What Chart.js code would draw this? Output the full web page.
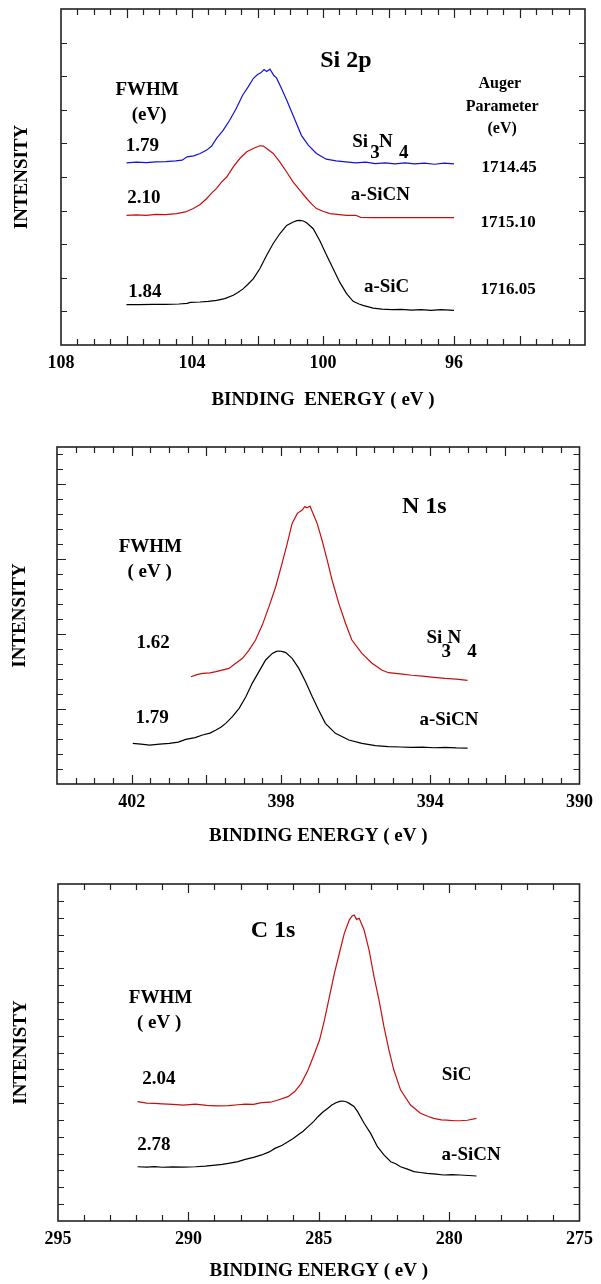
<!DOCTYPE html>
<html>
<head>
<meta charset="utf-8">
<script src="https://cdn.jsdelivr.net/npm/chart.js@4.4.0/dist/chart.umd.min.js"></script>
<style>
  body { margin: 0; background: #fff; }
  #page { position: relative; width: 601px; height: 1284px; }
  canvas { position: absolute; left: 0; }
</style>
</head>
<body>
<div id="page">
  <canvas id="si2p" width="601" height="425" style="top:0px"></canvas>
  <canvas id="n1s" width="601" height="425" style="top:430px"></canvas>
  <canvas id="c1s" width="601" height="424" style="top:860px"></canvas>
</div>
<script>
// ---- Si 2p ----
const si2pTicks = [108, 104, 100, 96];
const si2pSi3N4E = [106.0, 105.7, 105.4, 105.1, 104.8, 104.5, 104.3, 104.15, 103.95, 103.75, 103.55, 103.4, 103.25, 103.05, 102.85, 102.65, 102.45, 102.28, 102.13, 102.0, 101.9, 101.8, 101.72, 101.62, 101.5, 101.42, 101.27, 101.11, 100.96, 100.81, 100.66, 100.45, 100.2, 99.9, 99.6, 99.3, 99.0, 98.7, 98.4, 98.1, 97.8, 97.5, 97.2, 96.9, 96.6, 96.3, 96.0];
const si2pSi3N4I = [5.42, 5.44, 5.43, 5.45, 5.46, 5.48, 5.50, 5.60, 5.63, 5.70, 5.80, 5.92, 6.15, 6.39, 6.69, 7.04, 7.44, 7.69, 7.93, 8.05, 8.10, 8.20, 8.14, 8.21, 8.02, 7.95, 7.64, 7.29, 6.94, 6.59, 6.24, 5.95, 5.70, 5.53, 5.48, 5.45, 5.42, 5.44, 5.40, 5.42, 5.39, 5.42, 5.39, 5.41, 5.38, 5.41, 5.39];
const si2pSiCNE = [106.0, 105.7, 105.4, 105.1, 104.8, 104.47, 104.2, 103.96, 103.75, 103.55, 103.4, 103.25, 103.1, 102.94, 102.74, 102.54, 102.33, 102.13, 101.93, 101.82, 101.72, 101.52, 101.32, 101.11, 100.91, 100.71, 100.5, 100.35, 100.2, 100.0, 99.79, 99.5, 99.28, 99.0, 98.85, 98.5, 98.1, 97.7, 97.3, 96.9, 96.5, 96.0];
const si2pSiCNI = [3.86, 3.87, 3.86, 3.89, 3.88, 3.91, 3.96, 4.06, 4.18, 4.36, 4.52, 4.66, 4.85, 5.00, 5.30, 5.55, 5.75, 5.85, 5.93, 5.92, 5.85, 5.70, 5.45, 5.15, 4.85, 4.61, 4.36, 4.20, 4.06, 3.98, 3.91, 3.88, 3.86, 3.86, 3.80, 3.79, 3.79, 3.79, 3.79, 3.79, 3.79, 3.79];
const si2pSiCE = [106.0, 105.6, 105.2, 104.8, 104.4, 104.15, 104.05, 103.76, 103.5, 103.25, 103.0, 102.74, 102.6, 102.44, 102.3, 102.13, 101.93, 101.72, 101.52, 101.32, 101.11, 100.91, 100.8, 100.71, 100.6, 100.5, 100.3, 100.1, 99.89, 99.69, 99.49, 99.28, 99.08, 98.9, 98.78, 98.47, 98.2, 97.9, 97.6, 97.3, 97.0, 96.7, 96.4, 96.0];
const si2pSiCI = [1.20, 1.20, 1.21, 1.21, 1.22, 1.24, 1.27, 1.28, 1.30, 1.33, 1.38, 1.48, 1.56, 1.67, 1.80, 1.97, 2.27, 2.67, 3.02, 3.31, 3.56, 3.66, 3.70, 3.71, 3.69, 3.64, 3.46, 3.11, 2.67, 2.27, 1.87, 1.53, 1.30, 1.22, 1.18, 1.10, 1.07, 1.05, 1.06, 1.04, 1.05, 1.03, 1.05, 1.03];

// ---- N 1s ----
const n1sTicks = [402, 398, 394, 390];
const n1sSi3N4E = [400.41, 400.25, 400.10, 399.9, 399.74, 399.55, 399.39, 399.21, 399.03, 398.85, 398.68, 398.5, 398.32, 398.14, 397.97, 397.83, 397.70, 397.56, 397.43, 397.36, 397.30, 397.22, 397.16, 397.03, 396.9, 396.76, 396.63, 396.45, 396.27, 396.1, 395.83, 395.56, 395.3, 395.12, 394.8, 394.5, 394.2, 393.9, 393.6, 393.3, 393.0];
const n1sSi3N4I = [7.16, 7.30, 7.39, 7.42, 7.50, 7.62, 7.72, 8.06, 8.39, 8.95, 9.61, 10.61, 11.84, 13.17, 14.73, 16.07, 17.40, 18.07, 18.29, 18.52, 18.44, 18.56, 18.18, 17.40, 16.29, 14.95, 13.62, 12.06, 10.73, 9.61, 8.72, 8.06, 7.61, 7.43, 7.35, 7.26, 7.20, 7.12, 7.05, 7.00, 6.92];
const n1sSiCNE = [401.97, 401.75, 401.52, 401.25, 400.99, 400.75, 400.55, 400.3, 400.10, 399.9, 399.74, 399.6, 399.48, 399.3, 399.12, 398.94, 398.77, 398.59, 398.41, 398.23, 398.12, 398.05, 397.95, 397.87, 397.70, 397.52, 397.34, 397.16, 396.99, 396.81, 396.54, 396.18, 395.83, 395.47, 395.12, 394.8, 394.5, 394.2, 393.9, 393.6, 393.3, 393.0];
const n1sSiCNI = [2.71, 2.66, 2.60, 2.66, 2.71, 2.80, 2.98, 3.10, 3.27, 3.40, 3.60, 3.80, 4.05, 4.50, 5.05, 5.83, 6.72, 7.50, 8.28, 8.72, 8.85, 8.88, 8.84, 8.77, 8.39, 7.72, 6.83, 5.83, 4.94, 4.05, 3.38, 2.94, 2.71, 2.56, 2.49, 2.47, 2.44, 2.46, 2.42, 2.44, 2.41, 2.40];

// ---- C 1s ----
const c1sTicks = [295, 290, 285, 280, 275];
const c1sSiCE = [291.95, 291.6, 291.3, 291.0, 290.6, 290.2, 289.73, 289.3, 288.9, 288.46, 288.1, 287.82, 287.5, 287.19, 286.85, 286.56, 286.18, 285.92, 285.67, 285.41, 285.16, 284.97, 284.78, 284.59, 284.4, 284.21, 284.02, 283.83, 283.72, 283.64, 283.55, 283.45, 283.26, 283.07, 282.88, 282.69, 282.5, 282.31, 282.12, 281.86, 281.48, 281.1, 280.8, 280.59, 280.3, 280.09, 279.8, 279.58, 279.3, 278.95];
const c1sSiCI = [7.08, 7.00, 6.98, 6.95, 6.92, 6.88, 6.94, 6.86, 6.83, 6.85, 6.90, 6.94, 6.92, 7.02, 7.05, 7.18, 7.38, 7.68, 8.17, 8.96, 9.95, 10.74, 11.93, 13.31, 14.70, 15.89, 17.07, 17.86, 18.10, 18.16, 17.90, 17.96, 17.27, 16.08, 14.50, 13.12, 11.53, 10.15, 8.96, 7.77, 6.88, 6.39, 6.20, 6.09, 6.00, 5.99, 5.95, 5.95, 5.98, 6.09];
const c1sSiCNE = [291.95, 291.6, 291.3, 291.0, 290.6, 290.2, 289.73, 289.35, 288.97, 288.7, 288.46, 288.1, 287.82, 287.5, 287.19, 286.9, 286.68, 286.4, 286.18, 285.98, 285.8, 285.6, 285.41, 285.2, 285.03, 284.85, 284.65, 284.5, 284.34, 284.2, 284.08, 283.95, 283.83, 283.65, 283.51, 283.26, 283.01, 282.75, 282.5, 282.24, 282.05, 281.86, 281.6, 281.35, 281.1, 280.85, 280.5, 280.21, 279.9, 279.58, 279.25, 278.95];
const c1sSiCNI = [3.22, 3.20, 3.23, 3.19, 3.21, 3.20, 3.22, 3.26, 3.32, 3.36, 3.42, 3.52, 3.66, 3.78, 3.92, 4.10, 4.31, 4.50, 4.71, 4.90, 5.10, 5.33, 5.60, 5.90, 6.19, 6.45, 6.69, 6.88, 7.02, 7.10, 7.12, 7.08, 6.98, 6.80, 6.49, 5.80, 5.20, 4.41, 3.92, 3.52, 3.40, 3.22, 3.08, 2.93, 2.88, 2.83, 2.78, 2.73, 2.75, 2.73, 2.70, 2.67];

const SERIF = '"Liberation Serif", "Times New Roman", serif';
const BLUE = '#1212d8';
const RED = '#c80d0d';
const BLACK = '#000000';

Chart.defaults.color = '#000';

function pts(es, is) {
    return es.map((e, i) => ({ x: e, y: is[i] }));
}

// box round the plot with inward ticks on all four sides
const frameTicks = {
    id: 'frameTicks',
    afterDatasetsDraw(chart, args, o) {
        const { ctx, chartArea: a, scales: { x, y } } = chart;
        ctx.save();
        ctx.strokeStyle = '#222';
        ctx.lineWidth = 1.2;
        ctx.beginPath();
        const nx = Math.round((x.max - x.min) / o.xStep);
        for (let i = 1; i < nx; i++) {
            const v = x.min + i * o.xStep;
            const px = Math.round(x.getPixelForValue(v)) + 0.5;
            const major = o.xMajor && Math.abs(v / o.xMajor - Math.round(v / o.xMajor)) < 1e-6;
            const len = major ? o.majorLen : o.minorLen;
            ctx.moveTo(px, a.bottom); ctx.lineTo(px, a.bottom - len);
            ctx.moveTo(px, a.top); ctx.lineTo(px, a.top + len);
        }
        const ny = Math.floor((y.max - y.min) / o.yStep + 1e-6);
        for (let i = 1; i <= ny; i++) {
            const v = y.min + i * o.yStep;
            if (v >= y.max) continue;
            const py = Math.round(y.getPixelForValue(v)) + 0.5;
            const major = o.yMajor && Math.abs(v / o.yMajor - Math.round(v / o.yMajor)) < 1e-6;
            const len = major ? o.majorLen : o.minorLen;
            ctx.moveTo(a.left, py); ctx.lineTo(a.left + len, py);
            ctx.moveTo(a.right, py); ctx.lineTo(a.right - len, py);
        }
        ctx.stroke();
        ctx.lineWidth = 1.6;
        ctx.strokeRect(a.left, a.top, a.right - a.left, a.bottom - a.top);
        ctx.restore();
    }
};

// text placed at data coordinates
const notes = {
    id: 'notes',
    afterDraw(chart, args, o) {
        const { ctx, scales: { x, y } } = chart;
        ctx.save();
        ctx.fillStyle = '#000';
        ctx.textBaseline = 'alphabetic';
        o.items.forEach(n => {
            ctx.font = 'bold ' + (n.size || 19) + 'px ' + SERIF;
            ctx.textAlign = n.align || 'left';
            ctx.fillText(n.t, x.getPixelForValue(n.x), y.getPixelForValue(n.y));
        });
        ctx.restore();
    }
};

function makeChart(id, c) {
    return new Chart(document.getElementById(id), {
        type: 'line',
        data: {
            datasets: c.series.map(s => ({
                data: pts(s.e, s.i),
                borderColor: s.color,
                borderWidth: 1.2,
                pointRadius: 0,
                fill: false,
                tension: 0
            }))
        },
        options: {
            responsive: false,
            animation: false,
            layout: { padding: c.pad },
            plugins: {
                legend: { display: false },
                tooltip: { enabled: false },
                frameTicks: c.frame,
                notes: { items: c.notes }
            },
            scales: {
                x: {
                    type: 'linear',
                    min: c.xMin,
                    max: c.xMax,
                    reverse: true,
                    grid: { display: false, drawTicks: false },
                    border: { display: false },
                    afterBuildTicks: sc => { sc.ticks = c.xTicks.map(v => ({ value: v })); },
                    afterFit: sc => { sc.height = c.xHeight; },
                    ticks: {
                        padding: c.xLabelPad,
                        maxRotation: 0,
                        autoSkip: false,
                        font: { family: SERIF, size: 18, weight: 'bold' }
                    },
                    title: {
                        display: true,
                        text: c.xTitle,
                        font: { family: SERIF, size: 19, weight: 'bold' },
                        padding: { top: 0, bottom: c.xTitlePad }
                    }
                },
                y: {
                    type: 'linear',
                    min: 0,
                    max: c.yMax,
                    grid: { display: false, drawTicks: false },
                    border: { display: false },
                    ticks: { display: false },
                    afterFit: sc => { sc.width = c.yWidth; },
                    title: {
                        display: true,
                        text: c.yTitle,
                        font: { family: SERIF, size: 19, weight: 'bold' },
                        padding: { top: c.yTitlePad, bottom: 0 }
                    }
                }
            }
        },
        plugins: [frameTicks, notes]
    });
}

makeChart('si2p', {
    series: [
        { e: si2pSi3N4E, i: si2pSi3N4I, color: BLUE },
        { e: si2pSiCNE, i: si2pSiCNI, color: RED },
        { e: si2pSiCE, i: si2pSiCI, color: BLACK }
    ],
    xMin: 92, xMax: 108, xTicks: si2pTicks, yMax: 10,
    pad: { top: 9, right: 16, left: 0, bottom: 0 },
    xHeight: 80, yWidth: 61, xLabelPad: 8, xTitlePad: 14, yTitlePad: 10.6,
    xTitle: 'BINDING  ENERGY ( eV )', yTitle: 'INTENSITY',
    frame: { xStep: 0.5, xMajor: 2, yStep: 1, yMajor: 0, minorLen: 6, majorLen: 9 },
    notes: [
        { t: 'Si 2p', x: 99.30, y: 8.27, align: 'center', size: 24 },
        { t: 'FWHM', x: 105.37, y: 7.44, align: 'center' },
        { t: '(eV)', x: 105.31, y: 6.69, align: 'center' },
        { t: '1.79', x: 106.02, y: 5.77 },
        { t: '2.10', x: 105.98, y: 4.22 },
        { t: '1.84', x: 105.95, y: 1.42 },
        { t: 'Si', x: 99.11, y: 5.89 },
        { t: '3', x: 98.56, y: 5.56 },
        { t: 'N', x: 98.29, y: 5.89 },
        { t: '4', x: 97.68, y: 5.56 },
        { t: 'a-SiCN', x: 99.15, y: 4.31 },
        { t: 'a-SiC', x: 98.75, y: 1.59 },
        { t: 'Auger', x: 94.60, y: 7.65, align: 'center', size: 16 },
        { t: 'Parameter', x: 94.53, y: 6.96, align: 'center', size: 16 },
        { t: '(eV)', x: 94.53, y: 6.30, align: 'center', size: 16 },
        { t: '1714.45', x: 94.32, y: 5.14, align: 'center', size: 17 },
        { t: '1715.10', x: 94.35, y: 3.50, align: 'center', size: 17 },
        { t: '1716.05', x: 94.35, y: 1.53, align: 'center', size: 17 }
    ]
});

makeChart('n1s', {
    series: [
        { e: n1sSi3N4E, i: n1sSi3N4I, color: RED },
        { e: n1sSiCNE, i: n1sSiCNI, color: BLACK }
    ],
    xMin: 390, xMax: 404, xTicks: n1sTicks, yMax: 22.5,
    pad: { top: 17, right: 18, left: 0, bottom: 0 },
    xHeight: 71, yWidth: 57, xLabelPad: 8, xTitlePad: 7.6, yTitlePad: 8.6,
    xTitle: 'BINDING ENERGY ( eV )', yTitle: 'INTENSITY',
    frame: { xStep: 0.5, xMajor: 2, yStep: 1, yMajor: 5, minorLen: 6, majorLen: 9 },
    notes: [
        { t: 'N 1s', x: 394.16, y: 18.09, align: 'center', size: 24 },
        { t: 'FWHM', x: 401.5, y: 15.49, align: 'center' },
        { t: '( eV )', x: 401.52, y: 13.82, align: 'center' },
        { t: '1.62', x: 401.87, y: 9.08 },
        { t: '1.79', x: 401.9, y: 4.07 },
        { t: 'Si', x: 394.10, y: 9.41 },
        { t: '3', x: 393.70, y: 8.48 },
        { t: 'N', x: 393.54, y: 9.41 },
        { t: '4', x: 393.01, y: 8.48 },
        { t: 'a-SiCN', x: 394.29, y: 3.94 }
    ]
});

makeChart('c1s', {
    series: [
        { e: c1sSiCE, i: c1sSiCI, color: RED },
        { e: c1sSiCNE, i: c1sSiCNI, color: BLACK }
    ],
    xMin: 275, xMax: 295, xTicks: c1sTicks, yMax: 20,
    pad: { top: 24, right: 17, left: 0, bottom: 0 },
    xHeight: 63, yWidth: 58, xLabelPad: 8, xTitlePad: 2, yTitlePad: 9.6,
    xTitle: 'BINDING ENERGY ( eV )', yTitle: 'INTENISTY',
    frame: { xStep: 1, xMajor: 5, yStep: 1, yMajor: 0, minorLen: 6, majorLen: 9 },
    notes: [
        { t: 'C 1s', x: 286.75, y: 16.85, align: 'center', size: 24 },
        { t: 'FWHM', x: 291.07, y: 12.94, align: 'center' },
        { t: '( eV )', x: 291.12, y: 11.45, align: 'center' },
        { t: '2.04', x: 291.77, y: 8.13 },
        { t: '2.78', x: 291.96, y: 4.21 },
        { t: 'SiC', x: 280.28, y: 8.37 },
        { t: 'a-SiCN', x: 280.29, y: 3.62 }
    ]
});
</script>
</body>
</html>
